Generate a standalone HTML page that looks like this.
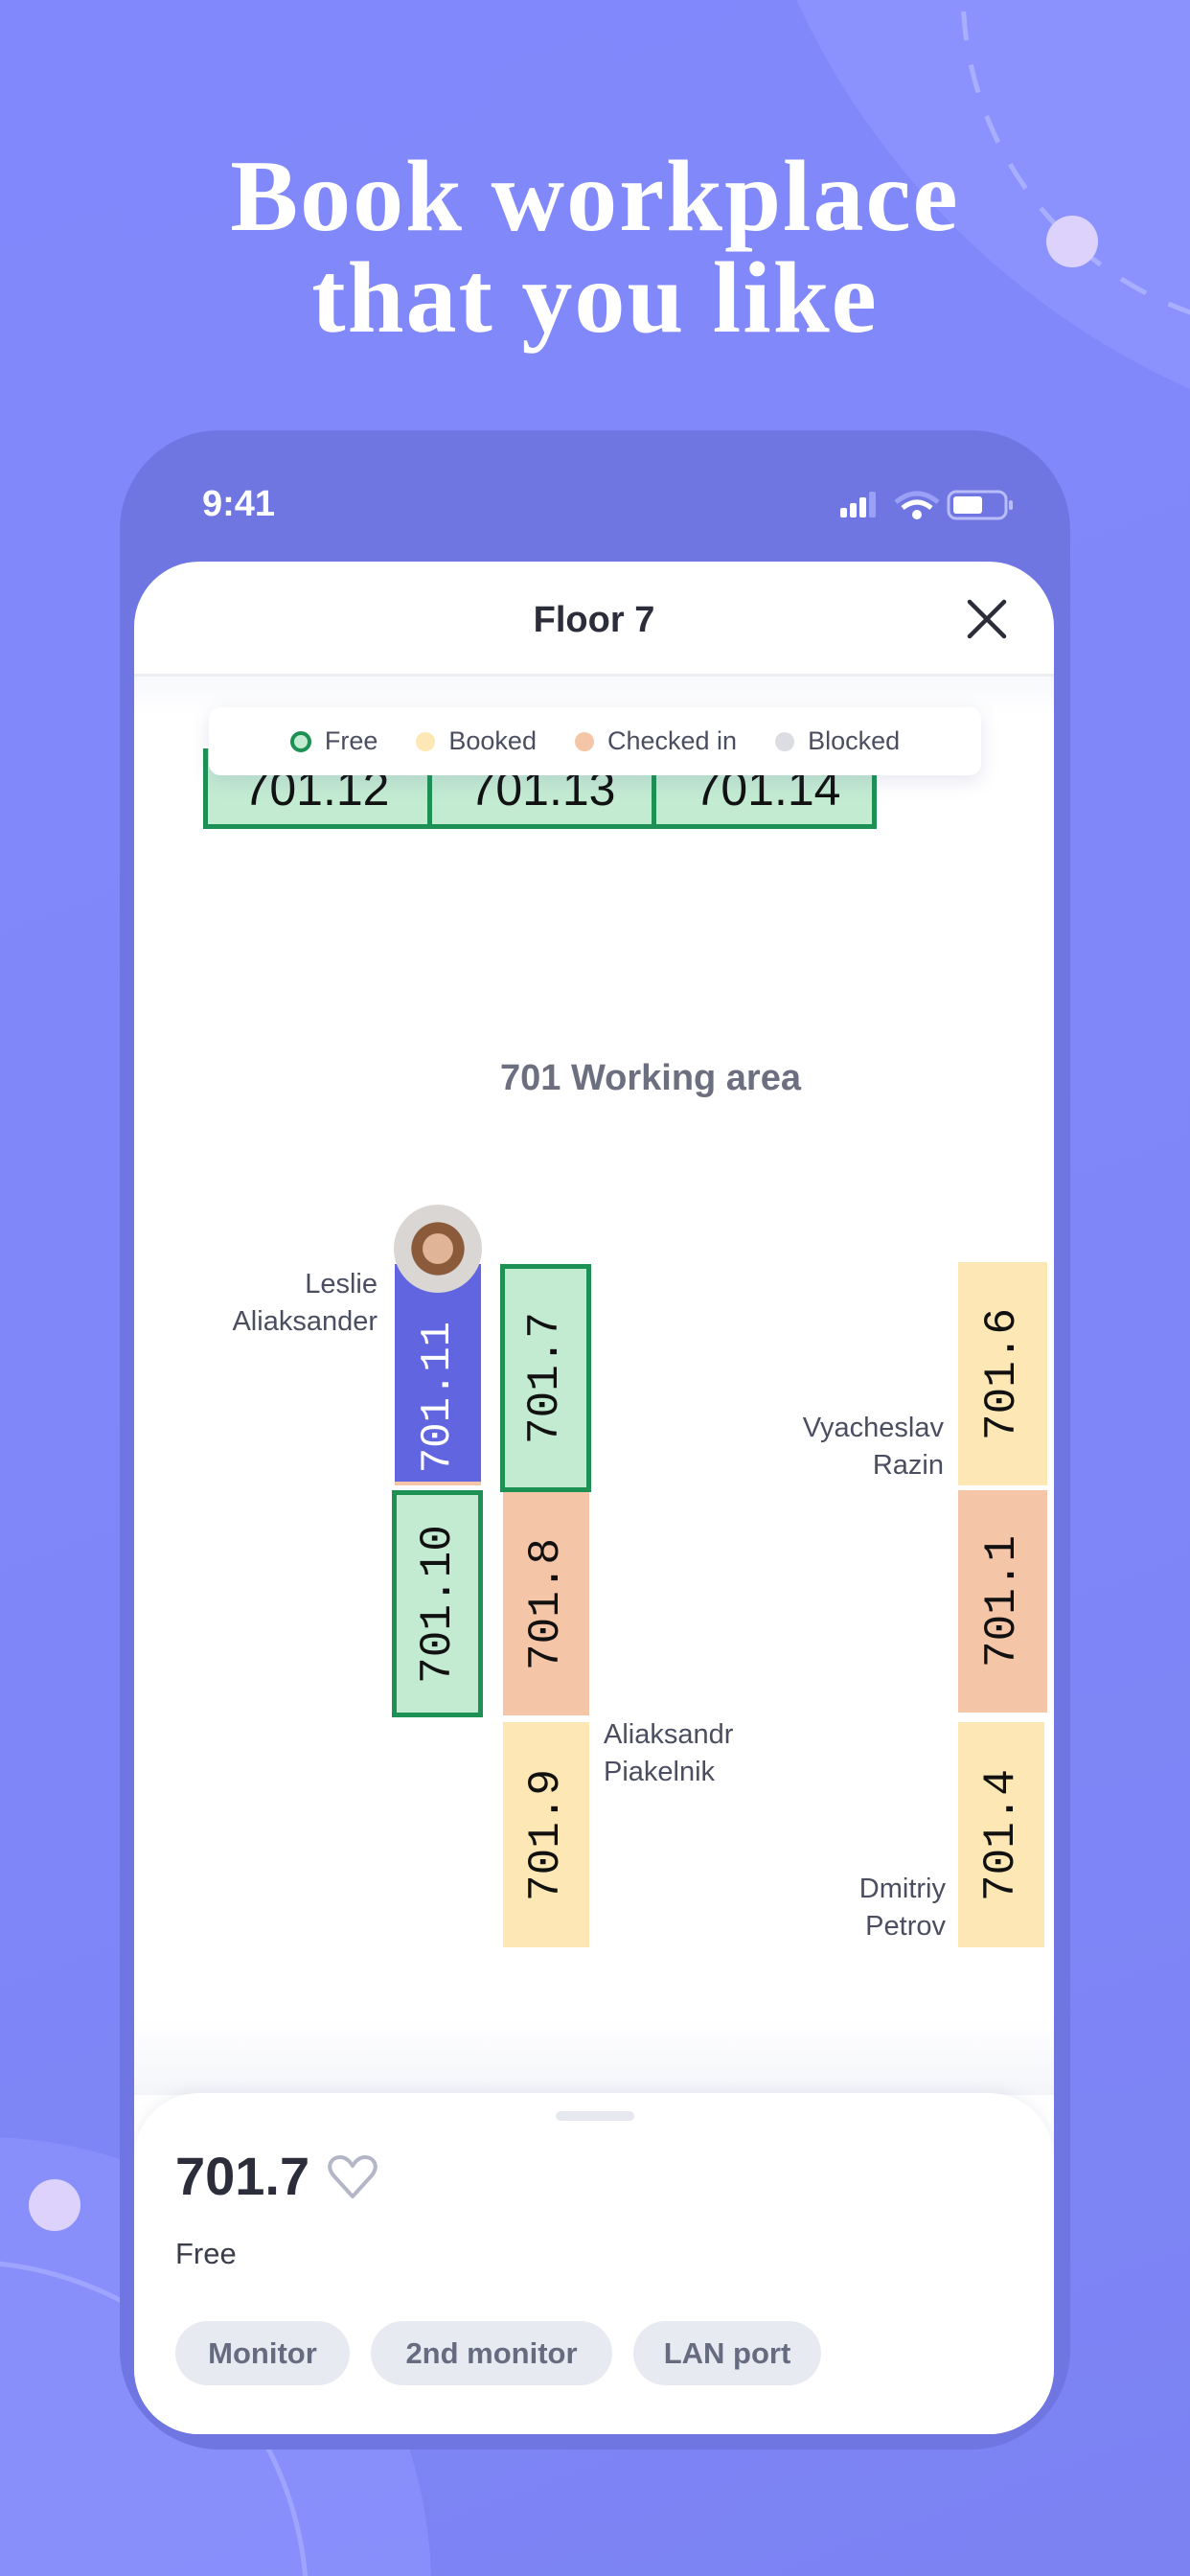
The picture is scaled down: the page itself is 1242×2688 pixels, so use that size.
<!DOCTYPE html>
<html><head><meta charset="utf-8">
<style>
*{margin:0;padding:0;box-sizing:border-box}
html,body{width:1242px;height:2688px;overflow:hidden}
body{position:relative;background:linear-gradient(160deg,#8188fb 0%,#7f87f8 60%,#7c82f2 100%);font-family:"Liberation Sans",sans-serif}
.abs{position:absolute}
svg{display:block}
.title{left:0;width:1242px;text-align:center;color:#fff;font-family:"Liberation Serif",serif;font-weight:bold;font-size:106px;line-height:106px;top:152px;letter-spacing:2px}
.phone{left:125px;top:449px;width:992px;height:2107px;border-radius:104px;background:#6f76e2}
.card{left:140px;top:586px;width:960px;height:1954px;border-radius:68px;background:#fff;overflow:hidden}
.desk{position:absolute;display:flex;align-items:center;justify-content:center}
.desk span{display:block;transform:rotate(-90deg);font-family:"Liberation Mono",monospace;font-size:46px;color:#111;white-space:nowrap}
.green{background:#c3ebd2;border:5px solid #1c9153}
.yellow{background:#fde8b5}
.peach{background:#f5c5a8}
.name{position:absolute;font-size:29px;line-height:39px;color:#4a4e60}
.chip{position:absolute;top:1836px;height:67px;border-radius:34px;background:#e8eaf2;color:#666b80;font-size:31px;font-weight:bold;display:flex;align-items:center;justify-content:center}
.leg{display:inline-flex;align-items:center;margin:0 20px}
.dot{width:20px;height:20px;border-radius:50%;margin-right:14px;display:inline-block}
</style></head><body>
<svg class="abs" style="left:0;top:0" width="1242" height="2688">
<circle cx="1576" cy="-343" r="820" fill="#8f96ff" opacity="0.75"/>
<circle cx="1360" cy="-9" r="355" fill="none" stroke="#a9afff" stroke-width="5" stroke-dasharray="30 26"/>
<circle cx="1119" cy="252" r="27" fill="#dcd2fb"/>
<circle cx="-20" cy="2700" r="470" fill="#8f96ff" opacity="0.6"/>
<circle cx="-40" cy="2720" r="360" fill="none" stroke="#9ea5ff" stroke-width="5"/>
<circle cx="57" cy="2301" r="27" fill="#dcd2fb"/>
</svg>
<div class="abs title">Book workplace<br>that you like</div>
<div class="abs phone"></div>
<div class="abs" style="left:211px;top:505px;color:#fff;font-size:38px;font-weight:bold">9:41</div>
<svg class="abs" style="left:875px;top:510px" width="185" height="36">
<rect x="2" y="20" width="7" height="10" rx="2" fill="#fff"/><rect x="12" y="15" width="7" height="15" rx="2" fill="#fff"/><rect x="22" y="9" width="7" height="21" rx="2" fill="#fff"/><rect x="32" y="3" width="7" height="27" rx="2" fill="#9aa0f5"/>
<path d="M60 14 Q82 -4 104 14" stroke="#9aa0f5" stroke-width="5" fill="none"/><path d="M67 20 Q82 8 97 20" stroke="#fff" stroke-width="5" fill="none"/><circle cx="82" cy="27" r="5" fill="#fff"/>
<rect x="115" y="3" width="60" height="28" rx="8" fill="none" stroke="#b8bcf8" stroke-width="3"/><rect x="120" y="8" width="30" height="18" rx="3" fill="#fff"/><rect x="178" y="12" width="4" height="10" rx="2" fill="#b8bcf8"/>
</svg>
<div class="abs card">
  <div class="abs" style="left:0;top:40px;width:960px;text-align:center;font-size:38px;font-weight:bold;color:#2b2d3a">Floor 7</div>
  <svg class="abs" style="left:868px;top:38px" width="44" height="44"><path d="M4 4L40 40M40 4L4 40" stroke="#2b2d3a" stroke-width="4.5" stroke-linecap="round"/></svg>
  <div class="abs" style="left:0;top:117px;width:960px;height:3px;background:#eceef3"></div>
  <div class="abs" style="left:0;top:120px;width:960px;height:40px;background:linear-gradient(#f7f8fb,#fff)"></div>
  <div class="abs" style="left:72px;top:195px;width:703px;height:84px;background:#c3ebd2;border:5px solid #1c9153;border-top:none"></div>
  <div class="abs" style="left:306px;top:195px;width:5px;height:84px;background:#1c9153"></div>
  <div class="abs" style="left:540px;top:195px;width:5px;height:84px;background:#1c9153"></div>
  <div class="abs" style="left:72px;top:208px;width:236px;text-align:center;font-size:50px;color:#111">701.12</div>
  <div class="abs" style="left:308px;top:208px;width:236px;text-align:center;font-size:50px;color:#111">701.13</div>
  <div class="abs" style="left:543px;top:208px;width:236px;text-align:center;font-size:50px;color:#111">701.14</div>
  <div class="abs" style="left:78px;top:152px;width:806px;height:71px;background:#fff;border-radius:12px;box-shadow:0 6px 20px rgba(90,95,160,0.15);display:flex;align-items:center;justify-content:center;font-size:27px;color:#4a4e60">
    <span class="leg"><span class="dot" style="background:#c3ebd2;border:4px solid #1c9153;width:22px;height:22px"></span>Free</span>
    <span class="leg"><span class="dot" style="background:#fde8b5"></span>Booked</span>
    <span class="leg"><span class="dot" style="background:#f5c5a8"></span>Checked in</span>
    <span class="leg"><span class="dot" style="background:#dcdde3"></span>Blocked</span>
  </div>
  <div class="abs" style="left:0;top:518px;width:1078px;text-align:center;font-size:38px;font-weight:bold;color:#6b6f80">701 Working area</div>
  <div class="desk" style="left:272px;top:733px;width:90px;height:231px;background:#6166e0;border-bottom:4px solid #f5c5a8;padding-top:50px"><span style="color:#fff;font-size:44px">701.11</span></div>
  <div class="abs" style="left:271px;top:671px;width:92px;height:92px;border-radius:50%;background:radial-gradient(ellipse at 50% 50%,#e0b597 0 24%,#8a5a3a 25% 42%,#d9d6d4 43%)"></div>
  <div class="desk green" style="left:269px;top:969px;width:95px;height:237px"><span>701.10</span></div>
  <div class="desk green" style="left:382px;top:733px;width:95px;height:238px"><span>701.7</span></div>
  <div class="desk peach" style="left:385px;top:971px;width:90px;height:233px"><span>701.8</span></div>
  <div class="desk yellow" style="left:385px;top:1211px;width:90px;height:235px"><span>701.9</span></div>
  <div class="desk yellow" style="left:860px;top:731px;width:93px;height:233px"><span>701.6</span></div>
  <div class="desk peach" style="left:860px;top:969px;width:93px;height:232px"><span>701.1</span></div>
  <div class="desk yellow" style="left:860px;top:1211px;width:90px;height:235px"><span>701.4</span></div>
  <div class="name" style="right:706px;top:735px;text-align:right">Leslie<br>Aliaksander</div>
  <div class="name" style="right:115px;top:885px;text-align:right">Vyacheslav<br>Razin</div>
  <div class="name" style="left:490px;top:1205px">Aliaksandr<br>Piakelnik</div>
  <div class="name" style="right:113px;top:1366px;text-align:right">Dmitriy<br>Petrov</div>
  <div class="abs" style="left:0;top:1520px;width:960px;height:80px;background:linear-gradient(#fff,#f4f5f9)"></div>
  <div class="abs" style="left:0;top:1598px;width:960px;height:356px;background:#fff;border-radius:68px 68px 0 0;box-shadow:0 -4px 14px rgba(120,125,170,0.10)"></div>
  <div class="abs" style="left:440px;top:1617px;width:82px;height:10px;border-radius:5px;background:#e6e8f0"></div>
  <div class="abs" style="left:43px;top:1652px;font-size:56px;font-weight:bold;color:#2b2d3a">701.7</div>
  <svg class="abs" style="left:200px;top:1662px" width="56" height="50"><path d="M28 44 L8 22 C0 12 6 3 15 3 C21 3 25 7 28 12 C31 7 35 3 41 3 C50 3 56 12 48 22 Z" fill="none" stroke="#b3b6c7" stroke-width="4" stroke-linejoin="round"/></svg>
  <div class="abs" style="left:43px;top:1748px;font-size:31px;color:#3a3d4a">Free</div>
  <div class="chip" style="left:43px;width:182px">Monitor</div>
  <div class="chip" style="left:247px;width:252px">2nd monitor</div>
  <div class="chip" style="left:521px;width:196px">LAN port</div>
</div>
</body></html>
